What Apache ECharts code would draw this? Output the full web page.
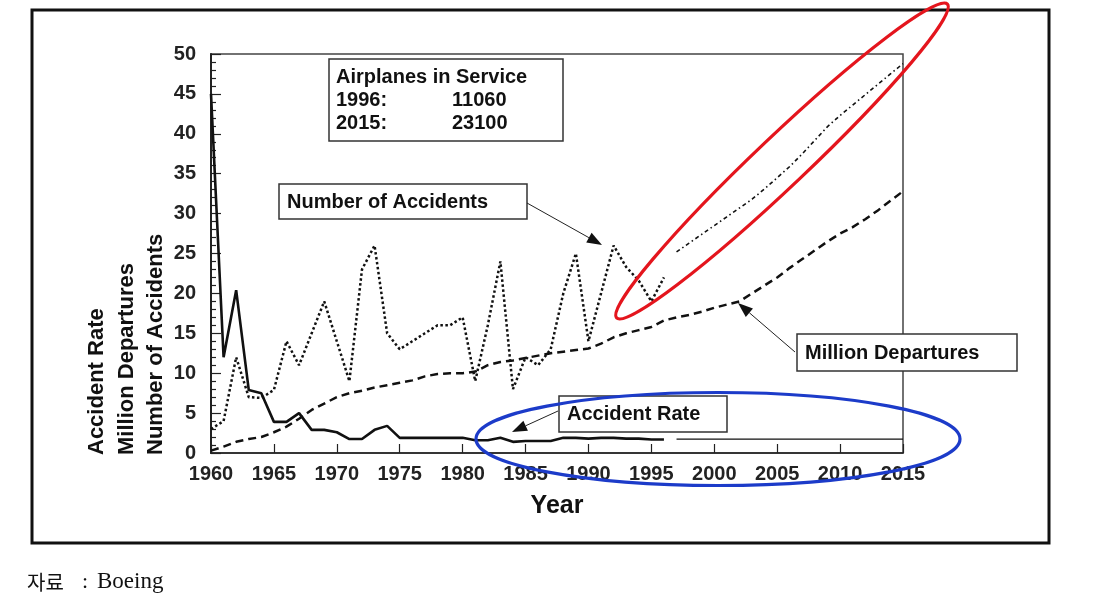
<!DOCTYPE html>
<html>
<head>
<meta charset="utf-8">
<script src="https://cdn.jsdelivr.net/npm/echarts@6/dist/echarts.min.js"></script>
<style>
html,body{margin:0;padding:0;background:#fff;}
#chart{width:1108px;height:615px;}
</style>
</head>
<body>
<div id="chart"></div>
<script>
// ---- data ----
const histYears = [1960,1961,1962,1963,1964,1965,1966,1967,1968,1969,1970,1971,1972,1973,1974,1975,1976,1977,1978,1979,1980,1981,1982,1983,1984,1985,1986,1987,1988,1989,1990,1991,1992,1993,1994,1995,1996];
const projYears = [1997,1998,1999,2000,2001,2002,2003,2004,2005,2006,2007,2008,2009,2010,2011,2012,2013,2014,2015];
const rateHist = [45,12,20.4,7.9,7.5,3.9,3.9,5.0,2.9,2.9,2.6,1.75,1.75,2.9,3.4,1.9,1.9,1.9,1.9,1.9,1.9,1.6,1.6,1.9,1.4,1.5,1.5,1.5,1.9,1.9,1.8,1.9,1.9,1.8,1.8,1.7,1.7];
const rateProj = [1.75,1.75,1.75,1.75,1.75,1.75,1.75,1.75,1.75,1.75,1.75,1.75,1.75,1.75,1.75,1.75,1.75,1.75,1.75];
const accHist = [3,4,12,7,6.9,7.9,14,11,15,19,14,9,23,26,15,13,14,15,16,16,17,9,16,24,8,12,11,13,20,25,14,20,26,23.3,21.6,19,22];
const accProj = [25.2,26.3,27.4,28.5,29.6,30.7,31.8,33.1,34.5,35.9,37.5,39.2,40.9,42.3,43.6,44.9,46.2,47.5,48.8];
const depHist = [0.3,0.8,1.4,1.75,2.0,2.6,3.3,4.3,5.4,6.2,7.0,7.5,7.8,8.2,8.5,8.8,9.1,9.6,9.9,10.0,10.0,10.2,11.0,11.4,11.6,11.9,12.2,12.5,12.7,12.9,13.1,13.7,14.5,15.0,15.4,15.8,16.6];
const depProj = [17.0,17.3,17.7,18.2,18.6,19.0,20.0,21.0,22.0,23.2,24.3,25.4,26.5,27.5,28.3,29.3,30.4,31.6,32.8];

const pair = (xs, ys) => xs.map((x, i) => [x, ys[i]]);
const allYears = histYears.concat(projYears);
const depAll = depHist.concat(depProj);

const FONT = 'Liberation Sans, Arial, sans-serif';
const boldText = (x, y, text, size, extra) => Object.assign({
  type: 'text', x: x, y: y, z: 110,
  style: {text: text, font: 'bold ' + size + 'px ' + FONT, fill: '#111', textVerticalAlign: 'middle', textAlign: 'left'}
}, extra || {});
const box = (x1, y1, x2, y2) => ({type: 'rect', z: 105, shape: {x: x1, y: y1, width: x2 - x1, height: y2 - y1},
  style: {fill: '#fff', stroke: '#333', lineWidth: 1.5}});
function arrow(x1, y1, x2, y2) {
  const dx = x2 - x1, dy = y2 - y1, L = Math.hypot(dx, dy);
  const ux = dx / L, uy = dy / L, len = 15, w = 5.5;
  const bx = x2 - ux * len, by = y2 - uy * len;
  return [
    {type: 'line', z: 108, shape: {x1: x1, y1: y1, x2: bx, y2: by}, style: {stroke: '#222', lineWidth: 1}},
    {type: 'polygon', z: 108, shape: {points: [[x2, y2], [bx - uy * w, by + ux * w], [bx + uy * w, by - ux * w]]}, style: {fill: '#111'}}
  ];
}

const chart = echarts.init(document.getElementById('chart'));
const line = (name, data, type, width, z) => ({
  name: name, type: 'line', data: data, symbol: 'none', z: z || 2, animation: false,
  lineStyle: {color: '#111', width: width, type: type}
});

chart.setOption({
  backgroundColor: '#fff',
  animation: false,
  grid: {left: 211, right: 205, top: 54, bottom: 162, show: true, borderColor: '#444', borderWidth: 1.5, backgroundColor: 'transparent'},
  xAxis: {
    type: 'value', min: 1960, max: 2015, interval: 5,
    axisLine: {show: true, lineStyle: {color: '#222', width: 1.5}},
    axisTick: {show: true, inside: true, length: 9, lineStyle: {color: '#222', width: 1.2}},
    axisLabel: {color: '#222', fontWeight: 'bold', fontSize: 20, fontFamily: FONT, margin: 11, formatter: v => String(v)},
    splitLine: {show: false}
  },
  yAxis: {
    type: 'value', min: 0, max: 50, interval: 5,
    axisLine: {show: true, lineStyle: {color: '#222', width: 2}},
    axisTick: {show: true, inside: true, length: 10, lineStyle: {color: '#222', width: 1.2}},
    minorTick: {show: true, splitNumber: 5, length: 5, lineStyle: {color: '#222', width: 1.2}},
    axisLabel: {color: '#222', fontWeight: 'bold', fontSize: 20, fontFamily: FONT, margin: 15},
    splitLine: {show: false}
  },
  series: [
    line('Million Departures', pair(allYears, depAll), [8, 5], 2.5),
    line('Number of Accidents', pair(histYears, accHist), [2.5, 2.5], 2.5),
    line('Number of Accidents projection', pair(projYears, accProj), [4, 3, 1.5, 3], 1.6),
    line('Accident Rate', pair(histYears, rateHist), 'solid', 2.6, 3),
    line('Accident Rate projection', pair(projYears, rateProj), 'solid', 1.3, 3)
  ],
  graphic: [
    // outer frame
    {type: 'rect', z: 90, shape: {x: 32, y: 10, width: 1017, height: 533}, style: {fill: 'none', stroke: '#111', lineWidth: 3}},
    // Airplanes in service box
    box(329, 59, 563, 141),
    boldText(336, 77, 'Airplanes in Service', 20),
    boldText(336, 100, '1996:', 20),
    boldText(452, 100, '11060', 20),
    boldText(336, 123, '2015:', 20),
    boldText(452, 123, '23100', 20),
    // Number of accidents label
    box(279, 184, 527, 219),
    boldText(287, 202, 'Number of Accidents', 20),
    ...arrow(527, 203, 602, 245),
    // Million Departures label
    box(797, 334, 1017, 371),
    boldText(805, 353, 'Million Departures', 20),
    ...arrow(795, 352, 738, 303),
    // Accident rate label
    box(559, 396, 727, 432),
    boldText(567, 414, 'Accident Rate', 20),
    ...arrow(558, 411, 512, 432),
    // y axis title (rotated)
    boldText(97, 455, 'Accident Rate', 22, {rotation: Math.PI / 2}),
    boldText(127, 455, 'Million Departures', 22, {rotation: Math.PI / 2}),
    boldText(156, 455, 'Number of Accidents', 22, {rotation: Math.PI / 2}),
    // x axis title
    {type: 'text', x: 557, y: 506, z: 110, style: {text: 'Year', font: 'bold 25px ' + FONT, fill: '#111', textAlign: 'center', textVerticalAlign: 'middle'}},
    // highlight ellipses
    {type: 'ellipse', z: 120, x: 782, y: 161, rotation: 43.5 * Math.PI / 180,
      shape: {cx: 0, cy: 0, rx: 228, ry: 25}, style: {fill: 'none', stroke: '#e4151d', lineWidth: 3.2}},
    {type: 'ellipse', z: 120, x: 718, y: 439,
      shape: {cx: 0, cy: 0, rx: 242, ry: 46.5}, style: {fill: 'none', stroke: '#1c3bc9', lineWidth: 3.2}},
    // source note
    {type: 'text', x: 27, y: 582, z: 110, style: {text: '자료', font: '20px "Noto Sans CJK KR", sans-serif', fill: '#111', textAlign: 'left', textVerticalAlign: 'middle'}},
    {type: 'text', x: 82, y: 582, z: 110, style: {text: ':', font: '22px "Liberation Serif", serif', fill: '#111', textAlign: 'left', textVerticalAlign: 'middle'}},
    {type: 'text', x: 97, y: 582, z: 110, style: {text: 'Boeing', font: '23px "Liberation Serif", serif', fill: '#111', textAlign: 'left', textVerticalAlign: 'middle'}}
  ]
});
</script>
</body>
</html>
